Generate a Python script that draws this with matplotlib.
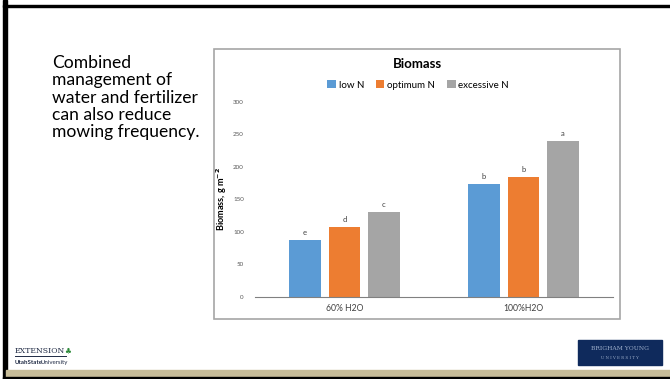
import numpy as np
import matplotlib
matplotlib.use("Agg")
import matplotlib.pyplot as plt
from matplotlib.patches import Rectangle

plt.rcParams['font.family'] = ['Lato', 'DejaVu Sans']

# data
groups = ["60% H2O", "100%H2O"]
series = ["low N", "optimum N", "excessive N"]
values = {
    "low N": [87, 174],
    "optimum N": [107, 184],
    "excessive N": [131, 239],
}
letters = {
    "low N": ["e", "b"],
    "optimum N": ["d", "b"],
    "excessive N": ["c", "a"],
}
colors = ["#5B9BD5", "#ED7D31", "#A5A5A5"]
yticks = [0, 50, 100, 150, 200, 250, 300]

W, H = 670, 379
fig = plt.figure(figsize=(W / 100, H / 100), dpi=100)
fig.patch.set_facecolor("white")


def px(x, y, w, h):
    # pixel box (top-left origin) -> figure fraction
    return [x / W, 1 - (y + h) / H, w / W, h / H]


# slide frame
bg = fig.add_axes([0, 0, 1, 1])
bg.set_xlim(0, W)
bg.set_ylim(H, 0)
bg.axis("off")
bg.add_patch(Rectangle((3, 0), 3.5, H, color="black"))
bg.add_patch(Rectangle((3, 4.5), W, 2.5, color="black"))
bg.add_patch(Rectangle((6, 370), W, 7, color="#C8BD99"))
bg.add_patch(Rectangle((3, 376.5), W, 3, color="black"))
bg.add_patch(Rectangle((214, 49), 406, 270, fill=False, ec="#a6a6a6", lw=1.2))

bg.text(52, 55, "Combined\nmanagement of\nwater and fertilizer\ncan also reduce\nmowing frequency.",
        fontsize=12.6, va="top", ha="left", color="black", linespacing=1.1)

# Extension / USU logo
ext = bg.text(15, 353, "EXTENSION", fontsize=5.6, family="DejaVu Serif", color="#1f2a44",
              va="baseline", ha="left")
bg.annotate("\u2663", xy=(1, 0), xycoords=ext, xytext=(-1, 0), textcoords="offset points",
            fontsize=5.5, color="#2e8b3a", va="bottom", ha="left", family="DejaVu Sans")
bg.plot([15, 66], [356, 356], color="#1f2a44", lw=0.7)
usu = bg.text(15, 364, "UtahState", fontsize=4.4, weight="bold", color="#1f2a44",
              va="baseline")
bg.annotate("University", xy=(1, 0), xycoords=usu, xytext=(-1.5, 0), textcoords="offset points",
            fontsize=4.4, color="#1f2a44", va="bottom", ha="left")

# BYU logo
bg.add_patch(Rectangle((578, 340), 84, 25, color="#0f2a5c"))
bg.text(620, 349, "BRIGHAM YOUNG", fontsize=4.3, family="DejaVu Serif",
        color="#9fb0cc", ha="center", va="center")
bg.text(620, 358, "U N I V E R S I T Y", fontsize=2.8, family="DejaVu Serif",
        color="#9fb0cc", ha="center", va="center")

# chart
ax = fig.add_axes(px(255, 101.7, 358, 195))
x = np.arange(len(groups))
bw = 0.175
step = 0.22
for i, name in enumerate(series):
    xs = x + (i - 1) * step
    bars = ax.bar(xs, values[name], width=bw, color=colors[i], label=name, zorder=2)
    for b, lab in zip(bars, letters[name]):
        ax.text(b.get_x() + b.get_width() / 2, b.get_height() + 6, lab,
                ha="center", va="bottom", fontsize=5.5, color="#404040")

ax.set_xlim(-0.5, 1.5)
ax.set_ylim(0, 300)
ax.set_yticks(yticks)
ax.set_yticklabels([str(t) for t in yticks], fontsize=4.5, color="#595959")
ax.set_xticks(x)
ax.set_xticklabels(groups, fontsize=6.2, color="#404040")
ax.tick_params(axis="both", length=0, pad=8)
ax.tick_params(axis="x", pad=5)
for s in ["top", "right", "left"]:
    ax.spines[s].set_visible(False)
ax.spines["bottom"].set_color("#808080")
ax.spines["bottom"].set_linewidth(0.8)
ax.set_ylabel("Biomass, g m$^{\\mathbf{-2}}$", fontsize=6.6, weight="bold", labelpad=3)

fig.text(417 / W, 1 - 64 / H, "Biomass", ha="center", va="center", fontsize=9.5,
         weight="bold")
fig.legend(loc="center", bbox_to_anchor=(418 / W, 1 - 85 / H), ncol=3, frameon=False,
           fontsize=7, handlelength=0.9, handleheight=0.9, handletextpad=0.3,
           columnspacing=1.2, borderaxespad=0)

fig.savefig("out.png", dpi=100)
